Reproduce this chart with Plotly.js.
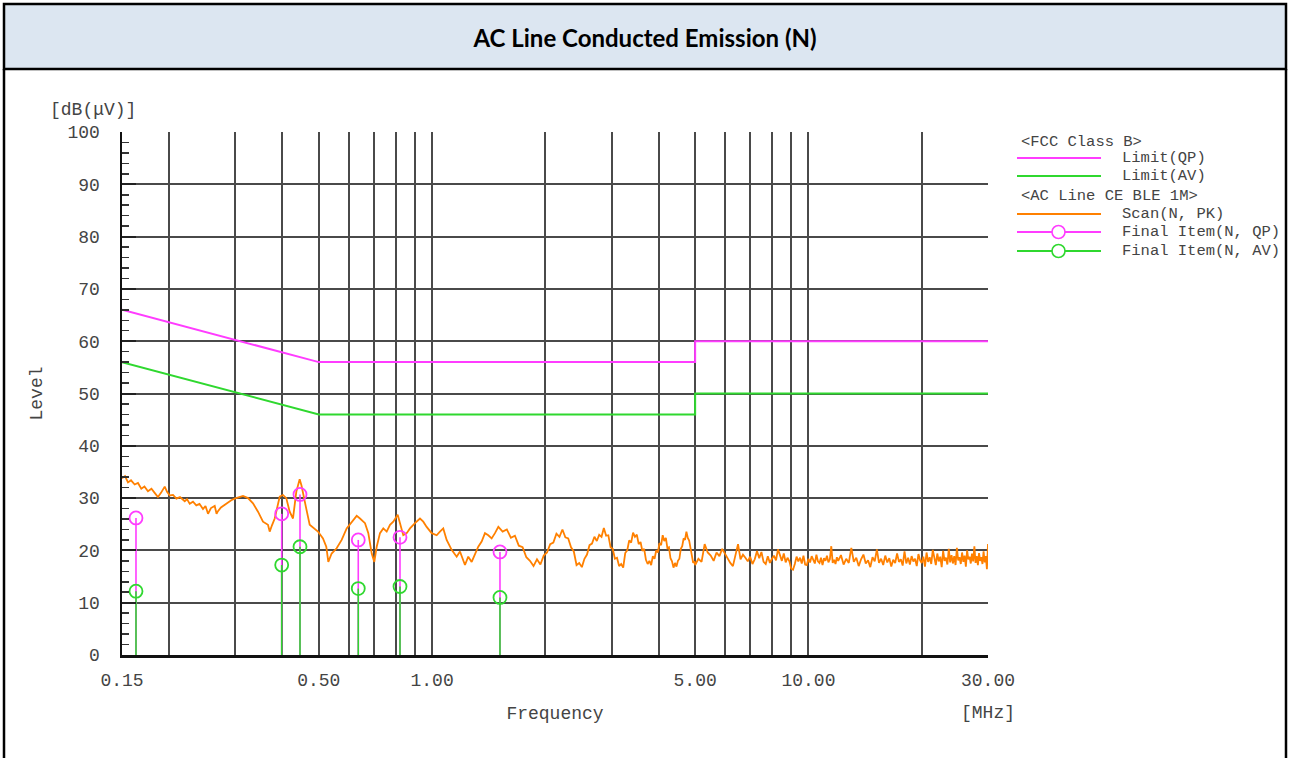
<!DOCTYPE html>
<html>
<head>
<meta charset="utf-8">
<script src="https://cdn.plot.ly/plotly-3.0.1.min.js"></script>
<style>
html,body{margin:0;padding:0;background:#fff;}
#chart{width:1290px;height:758px;}
</style>
</head>
<body>
<div id="chart"></div>
<script>
// ---- Data ----
const limitFreq = [0.15, 0.5, 5, 5, 30];
const limitQP   = [66, 56, 56, 60, 60];
const limitAV   = [56, 46, 46, 50, 50];

const finalFreq = [0.1634, 0.3985, 0.4457, 0.6366, 0.8218, 1.515];
const finalQP   = [26.2, 27.0, 30.7, 22.0, 22.5, 19.7];
const finalAV   = [12.2, 17.2, 20.7, 12.7, 13.1, 11.0];

const scanFreq = [
0.150,0.1528,0.1556,0.1585,0.1621,0.1654,0.1688,0.1721,0.1758,0.1796,
0.1832,0.1869,0.1904,0.1948,0.1976,0.2009,0.2050,0.2092,0.2139,0.2202,
0.2233,0.2270,0.2316,0.2363,0.2410,0.2462,0.2500,0.2539,0.2585,0.2645,
0.2675,0.2698,0.2748,0.2811,0.2869,0.2927,0.2988,0.3050,0.3145,0.3243,
0.3343,0.3447,0.3554,0.3664,0.3703,0.3755,0.3818,0.3872,0.3937,0.4016,
0.4098,0.4184,0.4270,0.4357,0.4402,0.4448,0.4498,0.4539,0.4631,0.4729,
0.4876,0.4975,0.5130,0.5235,0.5300,0.5409,0.5577,0.5751,0.5930,0.6116,
0.6305,0.6434,0.6634,0.6770,0.6912,0.7022,0.7127,0.7271,0.7420,0.7575,
0.7730,0.7888,0.8103,0.8218,0.8384,0.8562,0.8736,0.9006,0.9286,0.9475,
0.9674,0.9975,1.0285,1.0493,1.0708,1.0932,1.1272,1.1623,1.1861,1.2229,
1.2477,1.2741,1.2999,1.3265,1.3543,1.3820,1.4103,1.4398,1.4693,
1.50,1.54,1.58,1.62,1.66,1.70,1.74,1.78,1.82,1.86,
1.90,1.94,1.98,2.02,2.06,2.10,2.14,2.18,2.22,2.26,
2.30,2.34,2.38,2.42,2.46,2.50,2.54,2.58,2.62,2.66,
2.70,2.74,2.78,2.82,2.86,2.90,2.94,2.98,3.02,3.06,
3.10,3.14,3.18,3.22,3.26,3.30,3.34,3.38,3.42,3.46,
3.50,3.54,3.58,3.62,3.66,3.70,3.74,3.78,3.82,3.86,
3.90,3.94,3.98,4.02,4.06,4.10,4.14,4.18,4.22,4.26,
4.30,4.34,4.38,4.42,4.46,4.50,4.54,4.58,4.62,4.66,
4.70,4.74,4.78,4.82,4.86,4.90,4.94,4.98,
5.0,5.1,5.2,5.3,5.4,5.5,5.6,5.7,5.8,5.9,
6.0,6.1,6.2,6.3,6.4,6.5,6.6,6.7,6.8,6.9,
7.0,7.1,7.2,7.3,7.4,7.5,7.6,7.7,7.8,7.9,
8.0,8.1,8.2,8.3,8.4,8.5,8.6,8.7,8.8,8.9,
9.0,9.1,9.2,9.3,9.4,9.5,9.6,9.7,9.8,9.9,
10.0,10.1,10.2,10.3,10.4,10.5,10.6,10.7,10.8,10.9,
11.0,11.1,11.2,11.3,11.4,11.5,11.6,11.7,11.8,11.9,
12.0,12.2,12.4,12.6,12.8,13.0,13.2,13.4,13.6,13.8,
14.0,14.2,14.4,14.6,14.8,15.0,15.2,15.4,15.6,15.8,
16.0,16.2,16.4,16.6,16.8,17.0,17.2,17.4,17.6,17.8,
18.0,18.2,18.4,18.6,18.8,19.0,19.2,19.4,19.6,19.8,
20.0,20.2,20.4,20.6,20.8,21.0,21.2,21.4,21.6,21.8,
22.0,22.2,22.4,22.6,22.8,23.0,23.2,23.4,23.6,23.8,
24.0,24.2,24.4,24.6,24.8,25.0,25.2,25.4,25.6,25.8,
26.0,26.2,26.4,26.6,26.8,27.0,27.2,27.4,27.6,27.8,
28.0,28.2,28.4,28.6,28.8,29.0,29.2,29.4,29.6,29.8,
30.0
];
const scanLevel = [
33.8,34.2,33.0,33.4,32.6,32.9,31.8,32.2,31.3,31.8,
31.0,30.2,31.0,32.2,31.2,30.5,30.6,29.9,30.2,29.4,
29.8,28.9,29.3,28.6,28.9,27.9,28.5,27.0,28.1,28.5,
27.0,27.5,28.2,28.7,29.3,29.6,29.9,30.1,30.4,30.0,
29.0,27.4,25.5,24.9,23.6,24.8,26.1,28.0,30.3,30.6,
30.0,27.4,26.1,31.2,32.5,33.6,32.4,31.2,28.0,24.9,
24.2,23.6,22.3,20.7,17.8,19.4,20.4,22.0,24.2,25.5,
26.6,26.1,25.2,23.3,19.4,17.8,20.7,23.3,24.2,23.6,
24.9,25.5,26.8,25.2,22.9,23.3,24.2,25.2,26.1,25.5,
24.5,23.3,22.9,23.6,24.2,22.0,20.1,18.8,19.8,17.2,
18.8,17.8,19.1,20.7,21.7,23.3,22.9,22.3,23.3,
24.5,23.6,24.0,22.4,22.8,20.9,20.6,18.7,18.0,17.0,
18.3,17.3,19.0,19.6,21.2,21.5,23.2,22.6,24.0,22.5,
22.3,20.6,19.8,17.2,17.6,16.8,18.4,19.2,21.0,21.3,
22.6,21.8,23.0,22.6,24.3,22.8,22.9,20.6,20.3,18.4,
18.6,17.0,17.4,16.7,19.5,20.0,21.9,21.5,23.4,22.6,
23.0,21.2,21.6,19.9,20.3,18.2,17.4,18.0,17.2,18.9,
18.4,20.0,19.6,21.4,21.0,22.9,21.8,22.4,20.4,20.6,
18.5,17.9,16.7,17.6,16.9,18.0,18.4,20.3,20.8,22.3,
22.0,23.6,22.4,21.9,20.2,19.4,17.6,17.9,
17.2,18.4,17.8,21.2,19.6,19.0,18.0,19.6,18.9,20.3,
19.3,18.6,17.6,17.0,19.1,21.2,18.3,19.2,18.6,17.9,
18.8,17.4,18.3,19.9,18.5,19.7,17.8,17.4,18.9,17.6,
18.4,19.0,18.1,20.2,19.1,18.0,19.4,17.7,18.6,17.9,
16.5,16.3,17.4,18.8,17.9,18.6,17.5,19.0,17.3,17.2,
18.4,17.7,18.9,18.1,17.5,19.2,17.9,17.6,18.6,17.2,
18.5,18.0,19.0,17.7,18.3,20.8,17.6,18.2,17.4,18.7,
18.0,19.1,17.3,18.4,17.6,20.5,17.8,18.6,17.0,18.3,
19.2,17.5,18.1,16.8,18.7,17.9,20.2,17.6,18.4,17.2,
19.0,17.7,18.5,16.9,18.2,17.6,19.4,17.8,18.3,17.1,
19.8,17.5,18.6,17.3,18.9,17.9,18.4,17.0,19.3,18.1,
17.6,18.8,16.9,19.6,17.8,18.7,17.4,20.1,18.2,17.2,
19.4,17.9,18.8,16.8,19.9,18.0,18.6,17.3,20.3,17.7,
19.1,17.5,18.9,17.2,20.5,18.1,18.7,17.4,19.6,17.8,
19.0,16.9,20.0,18.3,18.8,17.5,19.4,17.9,20.8,17.6,
18.9,17.2,19.5,18.0,18.7,17.4,19.8,17.7,18.9,16.4,
21.2
];

const xTickVals = [0.15,0.2,0.3,0.4,0.5,0.6,0.7,0.8,0.9,1,2,3,4,5,6,7,8,9,10,20,30];
const xTickText = ['0.15','','','','0.50','','','','','1.00','','','','5.00','','','','','10.00','','30.00'];

const legendHeaders = ['<FCC Class B>', '<AC Line CE BLE 1M>'];
const legendNames = ['Limit(QP)', 'Limit(AV)', 'Scan(N, PK)', 'Final Item(N, QP)', 'Final Item(N, AV)'];

// ---- Styles ----
const MAG = '#ff3cff';
const GRN = '#2fd82f';
const ORG = '#ff8000';
const MONO = 'Liberation Mono, Courier New, monospace';
const TXT = '#444444';

function stems(xs, ys) {
  const x = [], y = [];
  xs.forEach((f, i) => { x.push(f, f, null); y.push(0, ys[i], null); });
  return {x, y};
}
const qpStem = stems(finalFreq, finalQP);
const avStem = stems(finalFreq, finalAV);

const n = Math.min(scanFreq.length, scanLevel.length);

const traces = [
  {x: limitFreq, y: limitQP, mode: 'lines', line: {color: MAG, width: 2}, name: legendNames[0], hoverinfo: 'skip'},
  {x: limitFreq, y: limitAV, mode: 'lines', line: {color: GRN, width: 2}, name: legendNames[1], hoverinfo: 'skip'},
  {x: scanFreq.slice(0, n), y: scanLevel.slice(0, n), mode: 'lines', line: {color: ORG, width: 1.8}, name: legendNames[2]},
  {x: qpStem.x, y: qpStem.y, mode: 'lines', line: {color: MAG, width: 1.6}, hoverinfo: 'skip'},
  {x: avStem.x, y: avStem.y, mode: 'lines', line: {color: GRN, width: 1.6}, hoverinfo: 'skip'},
  {x: finalFreq, y: finalQP, mode: 'markers', name: legendNames[3],
   marker: {symbol: 'circle', size: 13, color: 'rgba(255,255,255,0)', line: {color: MAG, width: 1.8}}},
  {x: finalFreq, y: finalAV, mode: 'markers', name: legendNames[4],
   marker: {symbol: 'circle', size: 13, color: 'rgba(255,255,255,0)', line: {color: GRN, width: 1.8}}}
];

// pixel -> paper helpers for decorations outside the plot area
const L = 122, R = 988, T = 132, B = 655;
const px = v => (v - L) / (R - L);
const py = v => (B - v) / (B - T);

const shapes = [
  // title banner and frame
  {type: 'rect', xref: 'paper', yref: 'paper', x0: px(4), x1: px(1286), y0: py(69), y1: py(4),
   fillcolor: '#dce6f1', line: {color: '#000', width: 2.5}, layer: 'below'},
  {type: 'line', xref: 'paper', yref: 'paper', x0: px(4), x1: px(4), y0: py(69), y1: py(762),
   line: {color: '#000', width: 2.5}},
  {type: 'line', xref: 'paper', yref: 'paper', x0: px(1286), x1: px(1286), y0: py(69), y1: py(762),
   line: {color: '#000', width: 2.5}}
];
const annotations = [
  {xref: 'paper', yref: 'paper', x: px(93), y: py(110), text: '[dB(\u03bcV)]', showarrow: false,
   font: {family: MONO, size: 18, color: TXT}, xanchor: 'center', yanchor: 'middle'},
  {xref: 'paper', yref: 'paper', x: px(988), y: py(713), text: '[MHz]', showarrow: false,
   font: {family: MONO, size: 18, color: TXT}, xanchor: 'center', yanchor: 'middle'}
];

// manual legend
const legY = [158, 176, 214, 232, 251];
const legC = [MAG, GRN, ORG, MAG, GRN];
const hdrY = [142, 196];
legendHeaders.forEach((h, i) => annotations.push({
  xref: 'paper', yref: 'paper', x: px(1019), y: py(hdrY[i]), text: h.replace(/</g, '&lt;').replace(/>/g, '&gt;'),
  showarrow: false, xanchor: 'left', yanchor: 'middle', font: {family: MONO, size: 15.5, color: TXT}
}));
legendNames.forEach((nm, i) => {
  shapes.push({type: 'line', xref: 'paper', yref: 'paper', x0: px(1017), x1: px(1101), y0: py(legY[i]), y1: py(legY[i]),
    line: {color: legC[i], width: 1.8}});
  if (i >= 3) {
    shapes.push({type: 'circle', xref: 'paper', yref: 'paper', x0: px(1052), x1: px(1065),
      y0: py(legY[i] + 6.5), y1: py(legY[i] - 6.5), fillcolor: '#fff', line: {color: legC[i], width: 1.6}});
  }
  annotations.push({xref: 'paper', yref: 'paper', x: px(1120), y: py(legY[i]), text: nm, showarrow: false,
    xanchor: 'left', yanchor: 'middle', font: {family: MONO, size: 15.5, color: TXT}});
});

const layout = {
  width: 1290, height: 758,
  margin: {l: L, r: 1290 - R, t: T, b: 758 - B, pad: 0},
  paper_bgcolor: '#ffffff', plot_bgcolor: '#ffffff',
  showlegend: false,
  title: {text: 'AC Line Conducted Emission (N)', x: 0.5, xref: 'container', xanchor: 'center',
          y: 1 - 38.5 / 758, yref: 'container', yanchor: 'middle',
          font: {family: 'Lato, Open Sans, sans-serif', size: 24, color: '#000', weight: 700}},
  xaxis: {
    type: 'log', range: [Math.log10(0.15), Math.log10(30)],
    tickmode: 'array', tickvals: xTickVals, ticktext: xTickText,
    showgrid: true, gridcolor: '#4a4a4a', gridwidth: 2,
    showline: true, linecolor: '#111', linewidth: 2.5, ticks: '',
    zeroline: false, ticklabelstandoff: 7,
    tickfont: {family: MONO, size: 18, color: TXT},
    title: {text: 'Frequency', font: {family: MONO, size: 18, color: TXT}, standoff: 17},
    automargin: false, fixedrange: true
  },
  yaxis: {
    range: [0, 100], tickmode: 'linear', tick0: 0, dtick: 10,
    showgrid: true, gridcolor: '#4a4a4a', gridwidth: 2,
    showline: true, linecolor: '#111', linewidth: 2.5,
    ticks: 'inside', ticklen: 14, tickwidth: 2, tickcolor: '#222',
    minor: {dtick: 2, ticks: 'inside', ticklen: 7, tickwidth: 1.5, tickcolor: '#333', showgrid: false},
    zeroline: false, ticklabelstandoff: 16,
    tickfont: {family: MONO, size: 18, color: TXT},
    title: {text: 'Level', font: {family: MONO, size: 18, color: TXT}, standoff: 20},
    automargin: false, fixedrange: true
  },
  shapes: shapes,
  annotations: annotations
};

Plotly.newPlot('chart', traces, layout, {displayModeBar: false, staticPlot: true});
</script>
</body>
</html>
